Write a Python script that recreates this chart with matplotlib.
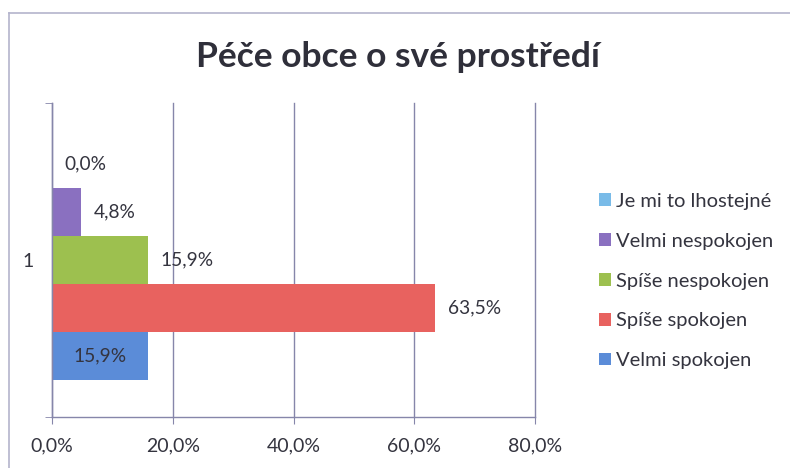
import matplotlib
matplotlib.use("Agg")
import matplotlib.pyplot as plt
from matplotlib.patches import Patch
from matplotlib.lines import Line2D

plt.rcParams['font.family'] = ['Lato', 'DejaVu Sans']

title = "Péče obce o své prostředí"
categories = ["1"]
# series listed bottom to top
series_names = ["Velmi spokojen", "Spíše spokojen", "Spíše nespokojen",
                "Velmi nespokojen", "Je mi to lhostejné"]
series_values = [15.9, 63.5, 15.9, 4.8, 0.0]
series_colors = ["#5b8cd8", "#e8625f", "#9dc04f", "#8a70c0", "#79bbe8"]
xticks = [0, 20, 40, 60, 80]
xtick_labels = ["0,0%", "20,0%", "40,0%", "60,0%", "80,0%"]

W, H = 790, 468
fig = plt.figure(figsize=(W / 100, H / 100), dpi=100)
ax = fig.add_axes([52 / W, 1 - 417 / H, (535 - 52) / W, (417 - 103) / H])

text_color = "#34343f"
grid_color = "#8686aa"

n = len(series_values)
group = 0.765
h = group / n
for i, (name, v, c) in enumerate(zip(series_names, series_values, series_colors)):
    y = 0 - group / 2 + h * (i + 0.5)
    ax.barh(y, v, height=h, color=c, label=name, zorder=3)
    lbl = f"{v:.1f}".replace(".", ",") + "%"
    if i == 0:
        ax.text(v / 2, y, lbl, ha="center", va="center", fontsize=13.8,
                color=text_color, zorder=4)
    else:
        ax.annotate(lbl, (v, y), xytext=(9, 0), textcoords="offset points",
                    ha="left", va="center", fontsize=13.8, color=text_color,
                    zorder=4)

ax.set_xlim(0, 80)
ax.set_ylim(-0.5, 0.5)
ax.set_xticks(xticks)
ax.set_xticklabels(xtick_labels)
ax.set_yticks([0])
ax.set_yticklabels(categories)
ax.set_yticks([-0.5, 0.5], minor=True)
ax.tick_params(axis="x", length=5, color=grid_color, pad=10, labelsize=14,
               labelcolor=text_color)
ax.tick_params(axis="y", which="major", length=0, pad=13, labelsize=14,
               labelcolor=text_color)
ax.tick_params(axis="y", which="minor", length=5, color=grid_color)
ax.xaxis.grid(True, color=grid_color, linewidth=1.0, zorder=0)
for gl in ax.get_xgridlines():
    gl.set_clip_on(False)
for s in ["top", "right"]:
    ax.spines[s].set_visible(False)
for s in ["left", "bottom"]:
    ax.spines[s].set_color(grid_color)
    ax.spines[s].set_linewidth(1.0)
ax.spines["left"].set_zorder(5)

fig.text(398 / W, 1 - 57 / H, title, ha="center", va="center",
         fontsize=25.5, fontweight="bold", color="#2f2f3a")

handles = [Patch(facecolor=c, edgecolor="none") for c in series_colors][::-1]
labels = series_names[::-1]
fig.legend(handles, labels, loc="center left", bbox_to_anchor=(581 / W, 1 - 281 / H),
           frameon=False, fontsize=14.5, handlelength=0.6, handleheight=0.6,
           handletextpad=0.25, labelspacing=1.13, labelcolor=text_color)

border = "#b4b4cc"
fig.add_artist(Line2D([9 / W, 1], [1 - 13 / H, 1 - 13 / H], color=border, lw=1.2,
                      transform=fig.transFigure))
fig.add_artist(Line2D([9 / W, 9 / W], [0, 1 - 13 / H], color=border, lw=1.2,
                      transform=fig.transFigure))

fig.savefig("out.png", dpi=100)
